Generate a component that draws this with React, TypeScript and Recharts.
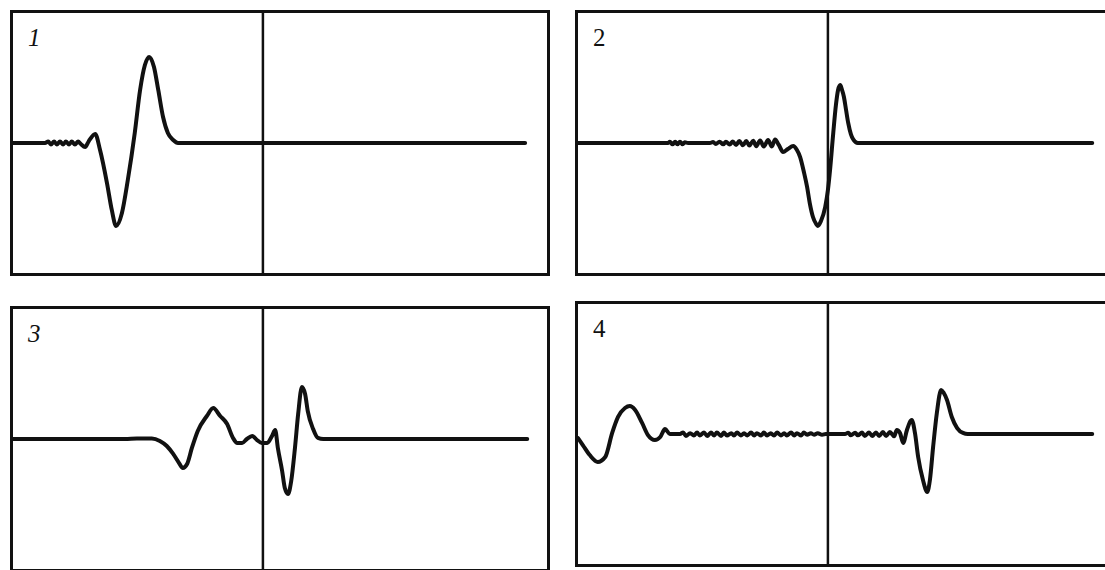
import { LineChart, Line, XAxis, YAxis, ReferenceLine } from 'recharts';

// Each trace is [time, amplitude]; time runs 0–100 across the screen,
// amplitude -100..100 from bottom to top edge. The trigger marker sits at 46.8.
const TRIGGER = 46.8;

const trace1: [number, number][] = [
  [0, 0], [6.0, 0],
  [6.6, 1.1], [7.1, -1.1], [7.7, 1.1], [8.2, -1.1], [8.8, 1.1], [9.4, -1.1],
  [9.9, 1.1], [10.5, -1.1], [11.0, 1.1], [11.6, -1.1], [12.2, 1.1], [12.7, -0.8],
  [13.5, -3.1], [14.2, 1.5],
  [15.4, 6.9], [16.3, -5.4], [17.6, -30.8], [18.5, -51.5], [19.3, -63.8],
  [20.4, -53.8], [21.5, -28.5], [22.8, 7.7], [23.8, 40.8], [24.7, 60.0],
  [25.5, 66.2], [26.4, 58.5], [27.2, 40.8], [28.1, 20.0], [29.0, 7.7],
  [30.0, 2.3], [30.9, 0], [95.9, 0],
];

const trace2: [number, number][] = [
  [0, 0], [16.9, 0],
  [17.2, 1.0], [17.7, -1.0], [18.2, 1.0], [18.6, -1.0], [19.1, 1.0], [19.6, -1.0],
  [20.0, 0.5], [20.6, 0], [24.7, 0],
  [25.3, 0.8], [25.8, -0.8], [26.5, 1.0], [27.2, -1.0], [27.7, 1.0], [28.4, -1.2],
  [29.0, 1.2], [29.6, -1.5], [30.2, 1.5], [30.9, -1.8], [31.5, 1.5], [32.1, -2.0],
  [32.8, 1.8], [33.4, -2.5], [34.1, 2.0], [34.8, -2.7], [35.6, 2.3], [36.3, -2.7],
  [36.9, 2.7], [37.6, -1.5], [38.4, -6.9], [39.3, -4.6], [40.3, -2.3], [41.0, -5.4],
  [41.6, -10.8], [42.3, -22.3], [42.9, -33.8], [43.4, -46.2], [44.0, -56.9],
  [44.6, -62.3], [44.9, -63.8], [45.5, -60.0], [46.3, -49.2], [46.8, -36.2],
  [47.2, -20.8], [47.8, 7.7], [48.3, 29.2], [48.7, 40.8], [49.1, 44.6],
  [49.4, 41.5], [49.8, 35.4], [50.2, 25.4], [50.6, 15.4], [51.1, 6.9],
  [51.5, 3.1], [52.4, 0], [96.3, 0],
];

const trace3: [number, number][] = [
  [0, 0], [21.0, 0], [23.2, 0.4], [26.0, 0.4], [27.5, -1.5], [28.8, -5.4],
  [30.0, -11.5], [31.1, -18.5], [31.8, -22.3], [32.6, -19.2], [33.5, -6.9],
  [34.6, 6.2], [36.3, 17.7], [37.5, 23.8], [38.8, 17.7], [40.1, 11.5],
  [41.2, 0.8], [42.0, -3.1], [42.9, -3.1], [43.8, 0], [44.8, 2.3], [45.7, -0.8],
  [46.6, -3.1], [47.6, -3.1], [48.5, 2.3], [49.1, 6.9], [49.6, -6.9],
  [50.4, -24.6], [50.9, -37.7], [51.5, -42.3], [52.1, -32.3], [52.8, -6.9],
  [53.4, 19.2], [54.1, 40.0], [54.7, 34.6], [55.2, 21.5], [56.2, 7.7],
  [57.1, 0.8], [58.1, 0], [96.3, 0],
];

const trace4: [number, number][] = [
  [0, -3.1], [0.9, -8.5], [2.2, -16.2], [3.7, -21.5], [5.1, -17.7], [6.4, 0.8],
  [7.5, 13.1], [8.8, 20.0], [9.7, 21.5], [10.7, 18.5], [12.0, 8.5], [13.1, -0.8],
  [14.4, -4.6], [15.4, -2.3], [16.3, 3.8], [17.2, 0], [19.1, 0],
  [19.7, 1.2], [20.2, -1.5], [21.0, 0.6], [21.7, -1.1], [22.3, 1.1], [22.8, -1.1],
  [23.6, 1.1], [24.2, -1.5], [24.9, 1.1], [25.5, -1.1], [26.0, 1.1], [26.8, -1.5],
  [27.3, 1.1], [27.9, -1.1], [28.7, 0.6], [29.2, -1.1], [29.8, 1.1], [30.5, -1.1],
  [31.1, 0.6], [31.7, -1.1], [32.4, 1.1], [33.0, -1.1], [33.5, 0.6], [34.3, -1.1],
  [34.8, 1.1], [35.4, -1.1], [36.1, 0.6], [36.7, -1.1], [37.3, 1.1], [38.0, -1.1],
  [38.6, 0.6], [39.1, -1.1], [39.9, 1.1], [40.5, -1.1], [41.0, 0.6], [41.8, -1.1],
  [42.3, 1.1], [42.9, -0.6], [43.6, 0.6], [44.2, -0.6], [44.9, 0.6], [45.7, -0.6],
  [46.4, 0], [50.0, 0],
  [50.6, 1.0], [51.1, -1.0], [51.9, 1.0], [52.4, -1.0], [53.2, 1.1], [53.7, -1.5],
  [54.5, 1.1], [55.1, -1.5], [55.8, 1.1], [56.4, -1.5], [57.1, 1.5], [57.7, -1.5],
  [58.4, 1.5], [59.2, -1.8], [59.7, 3.1], [60.3, 0.8], [60.9, -6.9], [61.6, 3.1],
  [62.5, 10.8], [63.1, 0.8], [63.7, -17.7], [64.6, -35.4], [65.4, -44.6],
  [65.9, -35.4], [66.5, -10.0], [67.2, 16.2], [68.0, 33.8], [68.5, 31.5],
  [69.1, 26.2], [70.0, 13.1], [71.0, 4.6], [72.1, 0.8], [73.0, 0], [96.3, 0],
];

const INK = '#111';

function Scope({
  left,
  top,
  label,
  italic,
  trace,
}: {
  left: number;
  top: number;
  label: string;
  italic: boolean;
  trace: [number, number][];
}) {
  const data = trace.map(([t, v]) => ({ t, v }));
  return (
    <div
      style={{
        position: 'absolute',
        left,
        top,
        width: 540,
        height: 266,
        border: `3px solid ${INK}`,
        boxSizing: 'border-box',
      }}
    >
      <LineChart width={534} height={260} data={data} margin={{ top: 0, right: 0, left: 0, bottom: 0 }}>
        <XAxis type="number" dataKey="t" domain={[0, 100]} hide />
        <YAxis type="number" domain={[-100, 100]} hide />
        <ReferenceLine x={TRIGGER} stroke={INK} strokeWidth={2.5} />
        <Line
          type="monotone"
          dataKey="v"
          stroke={INK}
          strokeWidth={4}
          strokeLinejoin="round"
          strokeLinecap="round"
          dot={false}
          activeDot={false}
          isAnimationActive={false}
        />
      </LineChart>
      <div
        style={{
          position: 'absolute',
          left: 15,
          top: 12,
          fontFamily: '"Liberation Serif", "DejaVu Serif", serif',
          fontStyle: italic ? 'italic' : 'normal',
          fontSize: 25,
          lineHeight: '25px',
          color: INK,
        }}
      >
        {label}
      </div>
    </div>
  );
}

export default function App() {
  return (
    <div
      style={{
        position: 'absolute',
        left: 0,
        top: 0,
        width: 1105,
        height: 570,
        overflow: 'hidden',
        background: '#fff',
      }}
    >
      <Scope left={10} top={10} label="1" italic trace={trace1} />
      <Scope left={575} top={10} label="2" italic={false} trace={trace2} />
      <Scope left={10} top={306} label="3" italic trace={trace3} />
      <Scope left={575} top={301} label="4" italic={false} trace={trace4} />
    </div>
  );
}
